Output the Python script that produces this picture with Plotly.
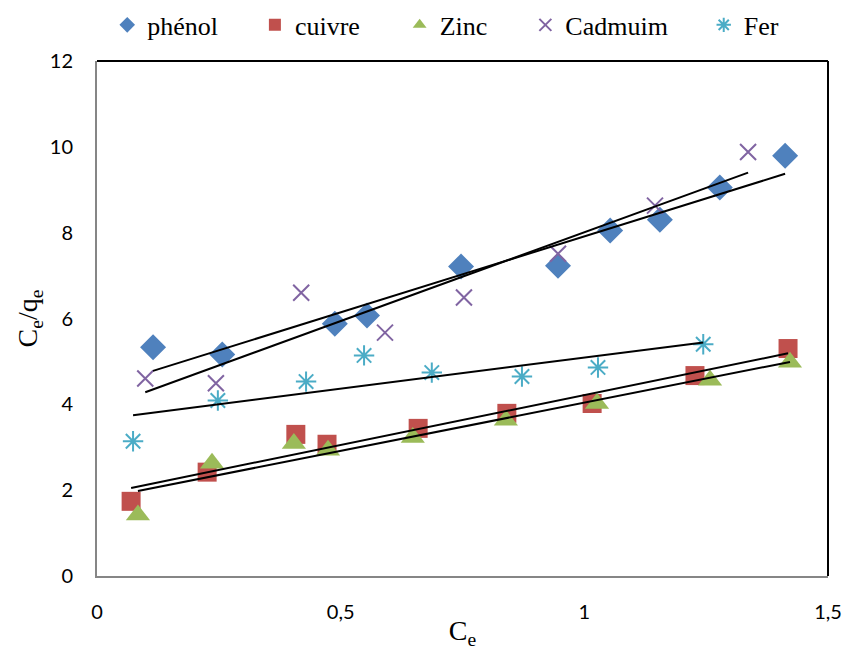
import numpy as np
import plotly.graph_objects as go

# Data
phenol_x = [0.115, 0.257, 0.488, 0.554, 0.747, 0.946, 1.053, 1.155, 1.278, 1.412]
phenol_y = [5.33, 5.16, 5.88, 6.07, 7.21, 7.23, 8.05, 8.30, 9.05, 9.79]

cuivre_x = [0.070, 0.226, 0.408, 0.472, 0.659, 0.841, 1.016, 1.227, 1.418]
cuivre_y = [1.74, 2.42, 3.30, 3.07, 3.44, 3.79, 4.02, 4.67, 5.30]

zinc_x = [0.084, 0.236, 0.404, 0.474, 0.648, 0.839, 1.026, 1.258, 1.422]
zinc_y = [1.42, 2.63, 3.09, 2.93, 3.23, 3.63, 4.02, 4.56, 4.98]

cadmium_x = [0.099, 0.244, 0.419, 0.591, 0.753, 0.946, 1.145, 1.336]
cadmium_y = [4.60, 4.49, 6.60, 5.67, 6.49, 7.51, 8.63, 9.88]

fer_x = [0.074, 0.248, 0.429, 0.548, 0.687, 0.872, 1.028, 1.244]
fer_y = [3.14, 4.09, 4.53, 5.14, 4.74, 4.65, 4.86, 5.40]

x_ticks = [0, 0.5, 1, 1.5]
x_tick_labels = ["0", "0,5", "1", "1,5"]
y_ticks = [0, 2, 4, 6, 8, 10, 12]

series = [
    ("phénol", phenol_x, phenol_y, dict(symbol="diamond", size=20, color="#4F81BD")),
    ("cuivre", cuivre_x, cuivre_y, dict(symbol="square", size=19, color="#C0504D")),
    ("Zinc", zinc_x, zinc_y, dict(symbol="triangle-up", size=21, color="#9BBB59")),
    ("Cadmuim", cadmium_x, cadmium_y, dict(symbol="x-thin-open", size=16, color="#8064A2",
                                           line=dict(width=2, color="#8064A2"))),
    ("Fer", fer_x, fer_y, dict(symbol="asterisk-open", size=17, color="#4BACC6",
                               line=dict(width=2, color="#4BACC6"))),
]

# one legend per entry so each can sit where the reference shows it
legend_ids = ["legend", "legend2", "legend3", "legend4", "legend5"]
legend_x = [0.014, 0.216, 0.414, 0.586, 0.83]

fig = go.Figure()

for (name, xs, ys, m), lid in zip(series, legend_ids):
    fig.add_trace(go.Scatter(x=xs, y=ys, mode="markers", name=name, marker=m, legend=lid))

# Linear trend lines
for name, xs, ys, m in series:
    a, b = np.polyfit(xs, ys, 1)
    xl = [min(xs), max(xs)]
    yl = [a * v + b for v in xl]
    fig.add_trace(go.Scatter(x=xl, y=yl, mode="lines", showlegend=False,
                             line=dict(color="black", width=2), hoverinfo="skip"))

legend_style = dict(orientation="h", xanchor="left", y=1.07, yanchor="middle",
                    font=dict(family="Liberation Serif", size=26, color="black"),
                    itemsizing="constant", bgcolor="rgba(0,0,0,0)")

fig.update_layout(
    width=847, height=650,
    margin=dict(l=97, r=19, t=61, b=74, autoexpand=False),
    paper_bgcolor="white", plot_bgcolor="white",
    showlegend=True,
    font=dict(family="Lato", size=20, color="black"),
)
for lid, lx in zip(legend_ids, legend_x):
    fig.update_layout({lid: dict(legend_style, x=lx)})

fig.update_xaxes(
    range=[0, 1.5], tickvals=x_ticks, ticktext=x_tick_labels,
    showgrid=False, zeroline=False, showline=True, linecolor="#868686", linewidth=2,
    mirror=False, ticks="", ticklabelstandoff=17, automargin=False,
    tickfont=dict(family="Lato", size=20, color="black"),
    title=dict(text="C<sub>e</sub>", font=dict(family="Liberation Serif", size=28, color="black"),
               standoff=0),
)
fig.update_yaxes(
    range=[0, 12], tickvals=y_ticks,
    showgrid=False, zeroline=False, showline=True, linecolor="#868686", linewidth=2,
    ticks="", ticklabelstandoff=18, automargin=False,
    tickfont=dict(family="Lato", size=20, color="black"),
    title=dict(text="C<sub>e</sub>/q<sub>e</sub>", font=dict(family="Liberation Serif", size=28, color="black"),
               standoff=4),
)

# Top and right frame lines (black)
fig.add_shape(type="line", xref="paper", yref="paper", x0=0, x1=1, y0=1, y1=1,
              line=dict(color="black", width=2))
fig.add_shape(type="line", xref="paper", yref="paper", x0=1, x1=1, y0=0, y1=1,
              line=dict(color="black", width=2))

fig.write_html("out.html")
